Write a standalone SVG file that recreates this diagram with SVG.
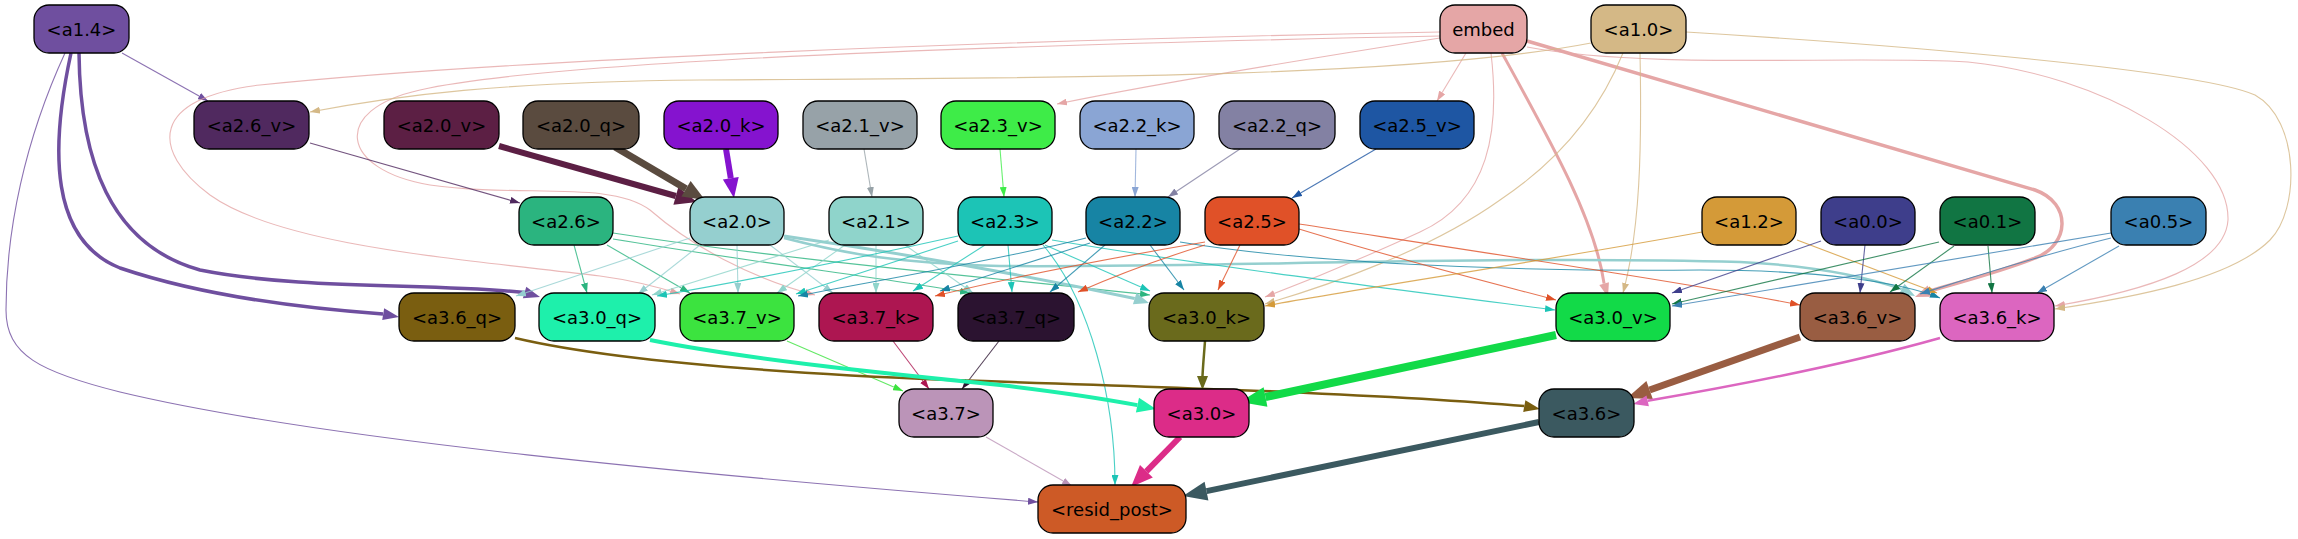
<svg xmlns="http://www.w3.org/2000/svg" width="2298" height="539" viewBox="0 0 2298 539">
<style>
.n rect{stroke:#000;stroke-width:1.3}
.n text{font-family:"DejaVu Sans","Liberation Sans",sans-serif;font-size:18px;text-anchor:middle;fill:#000}
.e{fill:none;stroke-width:1.1;stroke-opacity:.8}
</style>
<defs>
<marker id="m-a14" viewBox="0 0 10 7" refX="10" refY="3.5" markerWidth="10" markerHeight="7" markerUnits="userSpaceOnUse" orient="auto"><path d="M0,0L10,3.5L0,7z" fill="#6f4f9f"/></marker>
<marker id="m-emb" viewBox="0 0 10 7" refX="10" refY="3.5" markerWidth="10" markerHeight="7" markerUnits="userSpaceOnUse" orient="auto"><path d="M0,0L10,3.5L0,7z" fill="#e5a6a6"/></marker>
<marker id="m-a10" viewBox="0 0 10 7" refX="10" refY="3.5" markerWidth="10" markerHeight="7" markerUnits="userSpaceOnUse" orient="auto"><path d="M0,0L10,3.5L0,7z" fill="#d4b886"/></marker>
<marker id="m-a26v" viewBox="0 0 10 7" refX="10" refY="3.5" markerWidth="10" markerHeight="7" markerUnits="userSpaceOnUse" orient="auto"><path d="M0,0L10,3.5L0,7z" fill="#50295f"/></marker>
<marker id="m-a21v" viewBox="0 0 10 7" refX="10" refY="3.5" markerWidth="10" markerHeight="7" markerUnits="userSpaceOnUse" orient="auto"><path d="M0,0L10,3.5L0,7z" fill="#97a2a8"/></marker>
<marker id="m-a23v" viewBox="0 0 10 7" refX="10" refY="3.5" markerWidth="10" markerHeight="7" markerUnits="userSpaceOnUse" orient="auto"><path d="M0,0L10,3.5L0,7z" fill="#3eec48"/></marker>
<marker id="m-a22k" viewBox="0 0 10 7" refX="10" refY="3.5" markerWidth="10" markerHeight="7" markerUnits="userSpaceOnUse" orient="auto"><path d="M0,0L10,3.5L0,7z" fill="#8aa5d4"/></marker>
<marker id="m-a22q" viewBox="0 0 10 7" refX="10" refY="3.5" markerWidth="10" markerHeight="7" markerUnits="userSpaceOnUse" orient="auto"><path d="M0,0L10,3.5L0,7z" fill="#8381a3"/></marker>
<marker id="m-a25v" viewBox="0 0 10 7" refX="10" refY="3.5" markerWidth="10" markerHeight="7" markerUnits="userSpaceOnUse" orient="auto"><path d="M0,0L10,3.5L0,7z" fill="#1e56a3"/></marker>
<marker id="m-a26" viewBox="0 0 10 7" refX="10" refY="3.5" markerWidth="10" markerHeight="7" markerUnits="userSpaceOnUse" orient="auto"><path d="M0,0L10,3.5L0,7z" fill="#2bb47f"/></marker>
<marker id="m-a20" viewBox="0 0 10 7" refX="10" refY="3.5" markerWidth="10" markerHeight="7" markerUnits="userSpaceOnUse" orient="auto"><path d="M0,0L10,3.5L0,7z" fill="#95cfcf"/></marker>
<marker id="m-a21" viewBox="0 0 10 7" refX="10" refY="3.5" markerWidth="10" markerHeight="7" markerUnits="userSpaceOnUse" orient="auto"><path d="M0,0L10,3.5L0,7z" fill="#8fd4cb"/></marker>
<marker id="m-a23" viewBox="0 0 10 7" refX="10" refY="3.5" markerWidth="10" markerHeight="7" markerUnits="userSpaceOnUse" orient="auto"><path d="M0,0L10,3.5L0,7z" fill="#1cc4b6"/></marker>
<marker id="m-a22" viewBox="0 0 10 7" refX="10" refY="3.5" markerWidth="10" markerHeight="7" markerUnits="userSpaceOnUse" orient="auto"><path d="M0,0L10,3.5L0,7z" fill="#1784a4"/></marker>
<marker id="m-a25" viewBox="0 0 10 7" refX="10" refY="3.5" markerWidth="10" markerHeight="7" markerUnits="userSpaceOnUse" orient="auto"><path d="M0,0L10,3.5L0,7z" fill="#e05128"/></marker>
<marker id="m-a12" viewBox="0 0 10 7" refX="10" refY="3.5" markerWidth="10" markerHeight="7" markerUnits="userSpaceOnUse" orient="auto"><path d="M0,0L10,3.5L0,7z" fill="#d49a38"/></marker>
<marker id="m-a00" viewBox="0 0 10 7" refX="10" refY="3.5" markerWidth="10" markerHeight="7" markerUnits="userSpaceOnUse" orient="auto"><path d="M0,0L10,3.5L0,7z" fill="#3e3e8b"/></marker>
<marker id="m-a01" viewBox="0 0 10 7" refX="10" refY="3.5" markerWidth="10" markerHeight="7" markerUnits="userSpaceOnUse" orient="auto"><path d="M0,0L10,3.5L0,7z" fill="#117543"/></marker>
<marker id="m-a05" viewBox="0 0 10 7" refX="10" refY="3.5" markerWidth="10" markerHeight="7" markerUnits="userSpaceOnUse" orient="auto"><path d="M0,0L10,3.5L0,7z" fill="#3a80b1"/></marker>
<marker id="m-a37v" viewBox="0 0 10 7" refX="10" refY="3.5" markerWidth="10" markerHeight="7" markerUnits="userSpaceOnUse" orient="auto"><path d="M0,0L10,3.5L0,7z" fill="#3ce33f"/></marker>
<marker id="m-a37k" viewBox="0 0 10 7" refX="10" refY="3.5" markerWidth="10" markerHeight="7" markerUnits="userSpaceOnUse" orient="auto"><path d="M0,0L10,3.5L0,7z" fill="#ad1651"/></marker>
<marker id="m-a37q" viewBox="0 0 10 7" refX="10" refY="3.5" markerWidth="10" markerHeight="7" markerUnits="userSpaceOnUse" orient="auto"><path d="M0,0L10,3.5L0,7z" fill="#2b1330"/></marker>
<marker id="m-a37" viewBox="0 0 10 7" refX="10" refY="3.5" markerWidth="10" markerHeight="7" markerUnits="userSpaceOnUse" orient="auto"><path d="M0,0L10,3.5L0,7z" fill="#bb94b8"/></marker>
</defs>
<rect width="2298" height="539" fill="#fff"/>
<g id="connectors">
<!-- a1.4 -->
<path class="e" stroke="#6f4f9f" marker-end="url(#m-a14)" d="M122,53 L208,101"/>
<path class="e" stroke="#6f4f9f" marker-end="url(#m-a14)" d="M65,53 C25,140 6,230 6,310 C6,355 40,372 120,392 C320,440 700,475 1038,502"/>
<path fill="none" stroke="#6f4f9f" stroke-width="3.5" d="M71,53 C50,150 50,240 120,268 C200,295 300,308 383,314"/>
<polygon fill="#6f4f9f" points="399,317 382.2,320.1 384.2,308.3"/>
<path fill="none" stroke="#6f4f9f" stroke-width="3.5" d="M79,53 C80,160 110,245 200,270 C300,290 430,283 524.6,292.5"/>
<polygon fill="#6f4f9f" points="540,297 522.9,298.3 526.3,286.7"/>
<!-- embed -->
<path class="e" stroke="#e5a6a6" marker-end="url(#m-emb)" d="M1466,53 L1437,101"/>
<path class="e" stroke="#e5a6a6" marker-end="url(#m-emb)" d="M1440,38 C1300,60 1150,85 1057,104"/>
<path class="e" stroke="#e5a6a6" marker-end="url(#m-emb)" d="M1440,32 C1000,40 500,60 260,85 C150,98 150,150 210,195 C280,245 450,258 600,276 C630,280 655,286 680,294"/>
<path class="e" stroke="#e5a6a6" marker-end="url(#m-emb)" d="M1440,36 C1000,45 550,60 420,90 C330,110 340,170 430,185 C520,198 610,180 650,210 C690,245 750,278 815,295"/>
<path class="e" stroke="#e5a6a6" marker-end="url(#m-emb)" d="M1491,53 C1500,130 1490,200 1420,232 C1370,255 1310,280 1265,297"/>
<path class="e" stroke="#e5a6a6" marker-end="url(#m-emb)" d="M1527,47 C1650,70 1850,55 1968,62 C2100,75 2230,150 2228,220 C2225,265 2150,290 2055,306"/>
<path fill="none" stroke="#e5a6a6" stroke-width="3" d="M1502,53 C1550,140 1595,220 1604.1,283.6"/>
<polygon fill="#e5a6a6" points="1608,297 1599.3,285 1608.9,282.2"/>
<path fill="none" stroke="#e5a6a6" stroke-width="3.5" d="M1527,41 C1700,92 1900,150 2035,190 C2072,203 2070,245 2035,258 C2000,272 1960,282 1929.8,291.1"/>
<polygon fill="#e5a6a6" points="1915,297 1927.6,285.5 1932,296.7"/>
<!-- a1.0 -->
<path class="e" stroke="#d4b886" marker-end="url(#m-a10)" d="M1591,43 C1400,80 1000,78 700,80 C500,82 400,95 310,112"/>
<path class="e" stroke="#d4b886" marker-end="url(#m-a10)" d="M1623,53 C1600,110 1560,160 1500,200 C1430,250 1330,285 1265,304"/>
<path class="e" stroke="#d4b886" marker-end="url(#m-a10)" d="M1640,53 C1642,150 1640,230 1623,293"/>
<path class="e" stroke="#d4b886" marker-end="url(#m-a10)" d="M1686,32 C1900,45 2200,70 2255,95 C2300,120 2300,210 2270,240 C2230,280 2130,298 2055,309"/>
<!-- row2 to row3 -->
<path class="e" stroke="#50295f" marker-end="url(#m-a26v)" d="M310,143 L520,203"/>
<path fill="none" stroke="#5c1f44" stroke-width="6" d="M499,146 L675.8,196"/>
<polygon fill="#5c1f44" points="697,202 673.4,204.7 678.3,187.3"/>
<path fill="none" stroke="#5a4b3f" stroke-width="7" d="M615,147 L686,188.8"/>
<polygon fill="#5a4b3f" points="705,200 681.4,196.6 690.6,181"/>
<path fill="none" stroke="#8513cf" stroke-width="6" d="M726,149 L730.8,178.2"/>
<polygon fill="#8513cf" points="734,198 722.9,179.5 738.7,176.9"/>
<path class="e" stroke="#97a2a8" marker-end="url(#m-a21v)" d="M864,149 L872,197"/>
<path class="e" stroke="#3eec48" marker-end="url(#m-a23v)" d="M1000,149 L1004,197"/>
<path class="e" stroke="#8aa5d4" marker-end="url(#m-a22k)" d="M1136,149 L1135,197"/>
<path class="e" stroke="#8381a3" marker-end="url(#m-a22q)" d="M1240,149 L1168,197"/>
<path class="e" stroke="#1e56a3" marker-end="url(#m-a25v)" d="M1376,149 L1292,198"/>
<!-- a2.6 -->
<path class="e" stroke="#2bb47f" marker-end="url(#m-a26)" d="M574,245 L587,293"/>
<path class="e" stroke="#2bb47f" marker-end="url(#m-a26)" d="M607,245 L690,293"/>
<path class="e" stroke="#2bb47f" marker-end="url(#m-a26)" d="M613,239 C750,262 900,280 970,293"/>
<path class="e" stroke="#2bb47f" marker-end="url(#m-a26)" d="M613,233 C800,262 1000,278 1150,295"/>
<!-- a2.0 -->
<path class="e" stroke="#95cfcf" marker-end="url(#m-a20)" d="M690,238 L516,296"/>
<path class="e" stroke="#95cfcf" marker-end="url(#m-a20)" d="M700,245 L638,294"/>
<path class="e" stroke="#95cfcf" marker-end="url(#m-a20)" d="M737,245 L738,293"/>
<path class="e" stroke="#95cfcf" marker-end="url(#m-a20)" d="M770,245 L833,293"/>
<path fill="none" stroke="#95cfcf" stroke-width="3" d="M784,236 C880,250 1000,270 1134.7,298.5"/>
<polygon fill="#95cfcf" points="1149,303 1132.9,304.2 1136.5,292.8"/>
<path fill="none" stroke="#95cfcf" stroke-width="2.5" d="M784,238 C850,255 900,263 1000,266 C1200,268 1500,255 1740,262 C1820,266 1870,278 1901.7,289.1"/>
<polygon fill="#95cfcf" points="1915,296 1898.9,294.4 1904.5,283.8"/>
<!-- a2.1 -->
<path class="e" stroke="#8fd4cb" marker-end="url(#m-a21)" d="M876,245 L876,293"/>
<path class="e" stroke="#8fd4cb" marker-end="url(#m-a21)" d="M845,245 L777,293"/>
<path class="e" stroke="#8fd4cb" marker-end="url(#m-a21)" d="M829,240 L652,295"/>
<path class="e" stroke="#8fd4cb" marker-end="url(#m-a21)" d="M905,245 L973,293"/>
<!-- a2.3 -->
<path class="e" stroke="#1cc4b6" marker-end="url(#m-a23)" d="M958,236 C850,260 750,280 657,296"/>
<path class="e" stroke="#1cc4b6" marker-end="url(#m-a23)" d="M958,241 L796,294"/>
<path class="e" stroke="#1cc4b6" marker-end="url(#m-a23)" d="M985,245 L913,291"/>
<path class="e" stroke="#1cc4b6" marker-end="url(#m-a23)" d="M1008,245 L1012,292"/>
<path class="e" stroke="#1cc4b6" marker-end="url(#m-a23)" d="M1045,245 L1150,291"/>
<path class="e" stroke="#1cc4b6" marker-end="url(#m-a23)" d="M1052,240 C1200,265 1400,290 1555,310"/>
<path class="e" stroke="#1cc4b6" marker-end="url(#m-a23)" d="M1043,245 C1090,300 1115,400 1115,485"/>
<!-- a2.2 -->
<path class="e" stroke="#1784a4" marker-end="url(#m-a22)" d="M1086,238 C1000,260 880,280 798,296"/>
<path class="e" stroke="#1784a4" marker-end="url(#m-a22)" d="M1090,243 C1030,262 980,278 940,291"/>
<path class="e" stroke="#1784a4" marker-end="url(#m-a22)" d="M1105,245 L1050,292"/>
<path class="e" stroke="#1784a4" marker-end="url(#m-a22)" d="M1150,245 L1184,290"/>
<path class="e" stroke="#1784a4" marker-end="url(#m-a22)" d="M1180,242 C1300,262 1500,272 1700,270 C1820,270 1900,282 1940,298"/>
<!-- a2.5 -->
<path class="e" stroke="#e05128" marker-end="url(#m-a25)" d="M1205,242 C1100,260 1000,280 935,296"/>
<path class="e" stroke="#e05128" marker-end="url(#m-a25)" d="M1205,245 C1150,262 1110,278 1078,292"/>
<path class="e" stroke="#e05128" marker-end="url(#m-a25)" d="M1240,245 L1218,290"/>
<path class="e" stroke="#e05128" marker-end="url(#m-a25)" d="M1299,229 C1400,260 1500,285 1556,300"/>
<path class="e" stroke="#e05128" marker-end="url(#m-a25)" d="M1299,224 C1500,255 1700,285 1800,305"/>
<!-- a1.2, a0.x -->
<path class="e" stroke="#d49a38" marker-end="url(#m-a12)" d="M1702,232 C1550,260 1350,290 1265,306"/>
<path class="e" stroke="#d49a38" marker-end="url(#m-a12)" d="M1797,240 L1937,293"/>
<path class="e" stroke="#3e3e8b" marker-end="url(#m-a00)" d="M1821,241 L1672,293"/>
<path class="e" stroke="#3e3e8b" marker-end="url(#m-a00)" d="M1865,245 L1860,293"/>
<path class="e" stroke="#117543" marker-end="url(#m-a01)" d="M1939,242 L1672,304"/>
<path class="e" stroke="#117543" marker-end="url(#m-a01)" d="M1954,246 L1890,292"/>
<path class="e" stroke="#117543" marker-end="url(#m-a01)" d="M1988,246 L1992,293"/>
<path class="e" stroke="#3a80b1" marker-end="url(#m-a05)" d="M2111,233 C1950,260 1800,285 1672,306"/>
<path class="e" stroke="#3a80b1" marker-end="url(#m-a05)" d="M2111,238 C2030,258 1970,278 1920,294"/>
<path class="e" stroke="#3a80b1" marker-end="url(#m-a05)" d="M2119,246 L2037,293"/>
<!-- row4 to row5 -->
<path class="e" stroke="#3ce33f" marker-end="url(#m-a37v)" d="M787,341 L903,391"/>
<path class="e" stroke="#ad1651" marker-end="url(#m-a37k)" d="M893,341 L929,389"/>
<path class="e" stroke="#2b1330" marker-end="url(#m-a37q)" d="M999,341 L962,389"/>
<path fill="none" stroke="#7a5e10" stroke-width="2.5" d="M515,338 C600,358 750,372 950,380 C1200,388 1400,395 1524.3,406.1"/>
<polygon fill="#7a5e10" points="1540,409 1523.2,412 1525.4,400.2"/>
<path fill="none" stroke="#1ef0ab" stroke-width="4" d="M650,340 C750,360 900,375 1000,385 C1060,392 1110,400 1137.4,405.1"/>
<polygon fill="#1ef0ab" points="1156,409 1135.9,412.4 1139,397.8"/>
<path fill="none" stroke="#6a6a1c" stroke-width="2.5" d="M1205,341 C1204,355 1203,365 1202.5,376"/>
<polygon fill="#6a6a1c" points="1202.5,390 1197,376 1208,376"/>
<path fill="none" stroke="#12da48" stroke-width="8" d="M1556,335 L1265.5,397"/>
<polygon fill="#12da48" points="1240,402 1263.6,387.2 1267.4,406.8"/>
<path fill="none" stroke="#995d42" stroke-width="7" d="M1800,337 L1649.6,390"/>
<polygon fill="#995d42" points="1627,398 1646.4,381 1652.8,399"/>
<path fill="none" stroke="#dc66c0" stroke-width="2.5" d="M1940,338 C1880,355 1780,378 1647.7,400.8"/>
<polygon fill="#dc66c0" points="1633,404 1646.5,395.4 1648.9,406.2"/>
<!-- row5 to resid -->
<path class="e" stroke="#bb94b8" marker-end="url(#m-a37)" d="M986,437 L1072,486"/>
<path fill="none" stroke="#dc2c88" stroke-width="6" d="M1180,437 L1146.4,471.3"/>
<polygon fill="#dc2c88" points="1131,487 1140,465 1152.8,477.6"/>
<path fill="none" stroke="#3b5960" stroke-width="6" d="M1539,422 L1206.5,491.1"/>
<polygon fill="#3b5960" points="1183,496 1204.6,481.8 1208.4,500.4"/>
</g>
<g id="node-a1_4" class="n"><rect x="34" y="5" width="95" height="48" rx="15" fill="#6f4f9f"/><text x="81.5" y="35.5">&lt;a1.4&gt;</text></g>
<g id="node-embed" class="n"><rect x="1440" y="5" width="87" height="48" rx="15" fill="#e5a6a6"/><text x="1483.5" y="35.5">embed</text></g>
<g id="node-a1_0" class="n"><rect x="1591" y="5" width="95" height="48" rx="15" fill="#d4b886"/><text x="1638.5" y="35.5">&lt;a1.0&gt;</text></g>
<g id="node-a2_6_v" class="n"><rect x="194" y="101" width="115" height="48" rx="15" fill="#50295f"/><text x="251.5" y="131.5">&lt;a2.6_v&gt;</text></g>
<g id="node-a2_0_v" class="n"><rect x="384" y="101" width="115" height="48" rx="15" fill="#5c1f44"/><text x="441.5" y="131.5">&lt;a2.0_v&gt;</text></g>
<g id="node-a2_0_q" class="n"><rect x="523" y="101" width="116" height="48" rx="15" fill="#5a4b3f"/><text x="581" y="131.5">&lt;a2.0_q&gt;</text></g>
<g id="node-a2_0_k" class="n"><rect x="664" y="101" width="114" height="48" rx="15" fill="#8513cf"/><text x="721" y="131.5">&lt;a2.0_k&gt;</text></g>
<g id="node-a2_1_v" class="n"><rect x="803" y="101" width="114" height="48" rx="15" fill="#97a2a8"/><text x="860" y="131.5">&lt;a2.1_v&gt;</text></g>
<g id="node-a2_3_v" class="n"><rect x="941" y="101" width="114" height="48" rx="15" fill="#3eec48"/><text x="998" y="131.5">&lt;a2.3_v&gt;</text></g>
<g id="node-a2_2_k" class="n"><rect x="1080" y="101" width="114" height="48" rx="15" fill="#8aa5d4"/><text x="1137" y="131.5">&lt;a2.2_k&gt;</text></g>
<g id="node-a2_2_q" class="n"><rect x="1219" y="101" width="116" height="48" rx="15" fill="#8381a3"/><text x="1277" y="131.5">&lt;a2.2_q&gt;</text></g>
<g id="node-a2_5_v" class="n"><rect x="1360" y="101" width="114" height="48" rx="15" fill="#1e56a3"/><text x="1417" y="131.5">&lt;a2.5_v&gt;</text></g>
<g id="node-a2_6" class="n"><rect x="519" y="197" width="94" height="48" rx="15" fill="#2bb47f"/><text x="566" y="227.5">&lt;a2.6&gt;</text></g>
<g id="node-a2_0" class="n"><rect x="690" y="197" width="94" height="48" rx="15" fill="#95cfcf"/><text x="737" y="227.5">&lt;a2.0&gt;</text></g>
<g id="node-a2_1" class="n"><rect x="829" y="197" width="94" height="48" rx="15" fill="#8fd4cb"/><text x="876" y="227.5">&lt;a2.1&gt;</text></g>
<g id="node-a2_3" class="n"><rect x="958" y="197" width="94" height="48" rx="15" fill="#1cc4b6"/><text x="1005" y="227.5">&lt;a2.3&gt;</text></g>
<g id="node-a2_2" class="n"><rect x="1086" y="197" width="94" height="48" rx="15" fill="#1784a4"/><text x="1133" y="227.5">&lt;a2.2&gt;</text></g>
<g id="node-a2_5" class="n"><rect x="1205" y="197" width="94" height="48" rx="15" fill="#e05128"/><text x="1252" y="227.5">&lt;a2.5&gt;</text></g>
<g id="node-a1_2" class="n"><rect x="1702" y="197" width="94" height="48" rx="15" fill="#d49a38"/><text x="1749" y="227.5">&lt;a1.2&gt;</text></g>
<g id="node-a0_0" class="n"><rect x="1821" y="197" width="94" height="48" rx="15" fill="#3e3e8b"/><text x="1868" y="227.5">&lt;a0.0&gt;</text></g>
<g id="node-a0_1" class="n"><rect x="1940" y="197" width="95" height="48" rx="15" fill="#117543"/><text x="1987.5" y="227.5">&lt;a0.1&gt;</text></g>
<g id="node-a0_5" class="n"><rect x="2111" y="197" width="95" height="48" rx="15" fill="#3a80b1"/><text x="2158.5" y="227.5">&lt;a0.5&gt;</text></g>
<g id="node-a3_6_q" class="n"><rect x="399" y="293" width="116" height="48" rx="15" fill="#7a5e10"/><text x="457" y="323.5">&lt;a3.6_q&gt;</text></g>
<g id="node-a3_0_q" class="n"><rect x="539" y="293" width="116" height="48" rx="15" fill="#1ef0ab"/><text x="597" y="323.5">&lt;a3.0_q&gt;</text></g>
<g id="node-a3_7_v" class="n"><rect x="680" y="293" width="114" height="48" rx="15" fill="#3ce33f"/><text x="737" y="323.5">&lt;a3.7_v&gt;</text></g>
<g id="node-a3_7_k" class="n"><rect x="819" y="293" width="114" height="48" rx="15" fill="#ad1651"/><text x="876" y="323.5">&lt;a3.7_k&gt;</text></g>
<g id="node-a3_7_q" class="n"><rect x="958" y="293" width="116" height="48" rx="15" fill="#2b1330"/><text x="1016" y="323.5">&lt;a3.7_q&gt;</text></g>
<g id="node-a3_0_k" class="n"><rect x="1149" y="293" width="115" height="48" rx="15" fill="#6a6a1c"/><text x="1206.5" y="323.5">&lt;a3.0_k&gt;</text></g>
<g id="node-a3_0_v" class="n"><rect x="1556" y="293" width="114" height="48" rx="15" fill="#12da48"/><text x="1613" y="323.5">&lt;a3.0_v&gt;</text></g>
<g id="node-a3_6_v" class="n"><rect x="1800" y="293" width="115" height="48" rx="15" fill="#995d42"/><text x="1857.5" y="323.5">&lt;a3.6_v&gt;</text></g>
<g id="node-a3_6_k" class="n"><rect x="1940" y="293" width="114" height="48" rx="15" fill="#dc66c0"/><text x="1997" y="323.5">&lt;a3.6_k&gt;</text></g>
<g id="node-a3_7" class="n"><rect x="899" y="389" width="94" height="48" rx="15" fill="#bb94b8"/><text x="946" y="419.5">&lt;a3.7&gt;</text></g>
<g id="node-a3_0" class="n"><rect x="1154" y="389" width="95" height="48" rx="15" fill="#dc2c88"/><text x="1201.5" y="419.5">&lt;a3.0&gt;</text></g>
<g id="node-a3_6" class="n"><rect x="1539" y="389" width="95" height="48" rx="15" fill="#3b5960"/><text x="1586.5" y="419.5">&lt;a3.6&gt;</text></g>
<g id="node-resid_post" class="n"><rect x="1038" y="485" width="148" height="48" rx="15" fill="#cd5a26"/><text x="1112" y="515.5">&lt;resid_post&gt;</text></g>
</svg>
